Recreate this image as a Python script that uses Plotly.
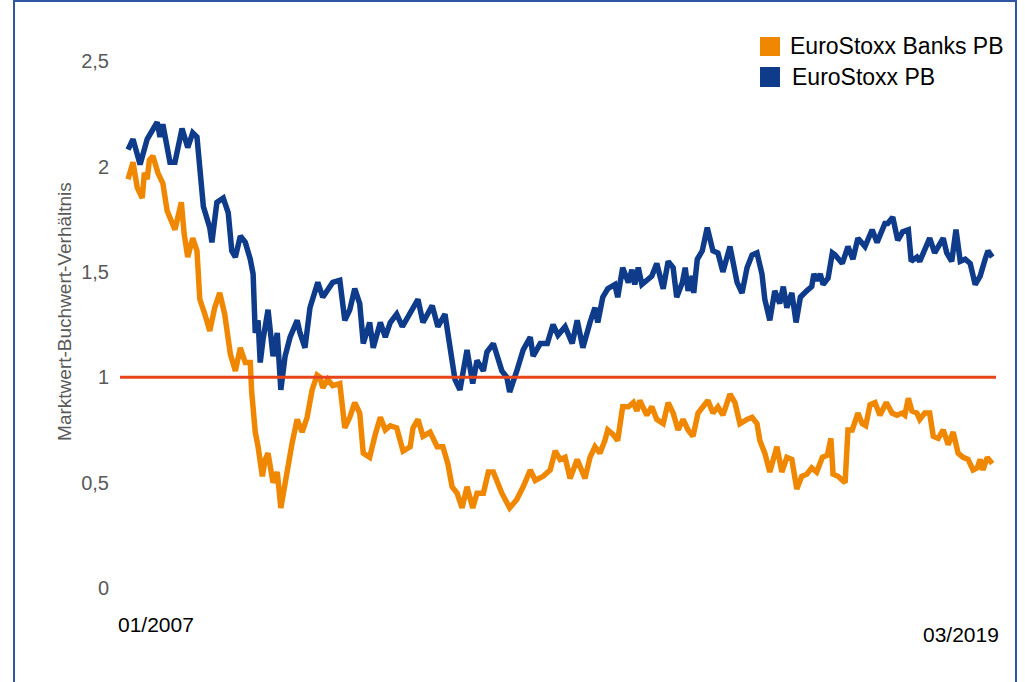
import plotly.graph_objects as go

# ---- data (decimal year, price-to-book ratio) ----
stoxx_year = [2007.00, 2007.07, 2007.17, 2007.27, 2007.41, 2007.45, 2007.49, 2007.59, 2007.66, 2007.76,
              2007.84, 2007.91, 2007.97, 2008.01, 2008.06, 2008.15, 2008.18, 2008.25, 2008.34, 2008.41,
              2008.46, 2008.51, 2008.58, 2008.65, 2008.72, 2008.76, 2008.79, 2008.83, 2008.86, 2008.90,
              2008.97, 2009.04, 2009.10, 2009.15, 2009.21, 2009.28, 2009.38, 2009.42, 2009.49, 2009.56,
              2009.67, 2009.74, 2009.81, 2009.88, 2009.98, 2010.05, 2010.12, 2010.19, 2010.26, 2010.31,
              2010.40, 2010.45, 2010.55, 2010.62, 2010.69, 2010.78, 2010.86, 2010.97, 2011.08, 2011.15,
              2011.28, 2011.36, 2011.46, 2011.50, 2011.56, 2011.60, 2011.67, 2011.77, 2011.85, 2011.91,
              2012.00, 2012.05, 2012.14, 2012.26, 2012.33, 2012.37, 2012.47, 2012.56, 2012.66, 2012.70,
              2012.80, 2012.90, 2012.98, 2013.05, 2013.15, 2013.25, 2013.32, 2013.40, 2013.50, 2013.57,
              2013.61, 2013.68, 2013.75, 2013.85, 2013.89, 2013.96, 2014.04, 2014.09, 2014.13, 2014.18,
              2014.23, 2014.30, 2014.37, 2014.44, 2014.49, 2014.53, 2014.60, 2014.67, 2014.72, 2014.80,
              2014.84, 2014.88, 2014.94, 2014.96, 2015.01, 2015.08, 2015.15, 2015.19, 2015.23, 2015.30,
              2015.37, 2015.47, 2015.57, 2015.64, 2015.71, 2015.78, 2015.85, 2015.92, 2015.96, 2016.03,
              2016.10, 2016.17, 2016.22, 2016.27, 2016.34, 2016.40, 2016.46, 2016.55, 2016.62, 2016.65,
              2016.69, 2016.74, 2016.78, 2016.85, 2016.91, 2016.95, 2017.05, 2017.13, 2017.20, 2017.27,
              2017.37, 2017.47, 2017.54, 2017.65, 2017.69, 2017.76, 2017.83, 2017.90, 2017.98, 2018.02,
              2018.10, 2018.14, 2018.24, 2018.28, 2018.35, 2018.40, 2018.47, 2018.52, 2018.59, 2018.65,
              2018.71, 2018.78, 2018.85, 2018.92, 2018.99, 2019.06, 2019.10, 2019.16]
stoxx_pb = [2.08, 2.13, 2.01, 2.13, 2.21, 2.14, 2.20, 2.02, 2.02, 2.18,
            2.09, 2.16, 2.14, 1.98, 1.81, 1.71, 1.64, 1.83, 1.85, 1.78,
            1.60, 1.57, 1.67, 1.64, 1.56, 1.49, 1.21, 1.27, 1.07, 1.18,
            1.32, 1.10, 1.21, 0.94, 1.10, 1.19, 1.27, 1.21, 1.14, 1.33,
            1.45, 1.38, 1.41, 1.45, 1.46, 1.27, 1.32, 1.42, 1.35, 1.16,
            1.26, 1.14, 1.26, 1.19, 1.26, 1.30, 1.24, 1.30, 1.37, 1.26,
            1.34, 1.24, 1.30, 1.21, 1.08, 0.99, 0.94, 1.13, 0.97, 1.08,
            1.03, 1.12, 1.16, 1.03, 1.00, 0.93, 1.03, 1.13, 1.19, 1.10,
            1.16, 1.16, 1.25, 1.20, 1.24, 1.16, 1.27, 1.14, 1.26, 1.33,
            1.26, 1.38, 1.42, 1.44, 1.38, 1.52, 1.45, 1.51, 1.44, 1.52,
            1.44, 1.46, 1.48, 1.54, 1.48, 1.42, 1.55, 1.52, 1.38, 1.45,
            1.52, 1.41, 1.48, 1.40, 1.56, 1.60, 1.71, 1.64, 1.60, 1.59,
            1.50, 1.62, 1.45, 1.40, 1.52, 1.58, 1.59, 1.49, 1.37, 1.27,
            1.41, 1.35, 1.43, 1.33, 1.40, 1.26, 1.38, 1.41, 1.43, 1.49,
            1.46, 1.49, 1.44, 1.47, 1.59, 1.58, 1.54, 1.62, 1.56, 1.66,
            1.62, 1.70, 1.64, 1.73, 1.73, 1.76, 1.65, 1.69, 1.70, 1.55,
            1.57, 1.55, 1.64, 1.66, 1.59, 1.62, 1.66, 1.59, 1.55, 1.70,
            1.55, 1.56, 1.54, 1.44, 1.48, 1.56, 1.60, 1.57]

banks_year = [2007.00, 2007.07, 2007.13, 2007.20, 2007.23, 2007.27, 2007.30, 2007.35, 2007.42, 2007.49,
              2007.55, 2007.59, 2007.66, 2007.75, 2007.79, 2007.84, 2007.91, 2007.97, 2008.01, 2008.08,
              2008.15, 2008.22, 2008.29, 2008.36, 2008.44, 2008.51, 2008.58, 2008.65, 2008.72, 2008.74,
              2008.79, 2008.83, 2008.89, 2008.93, 2008.97, 2009.04, 2009.10, 2009.15, 2009.24, 2009.31,
              2009.38, 2009.45, 2009.52, 2009.59, 2009.66, 2009.70, 2009.74, 2009.81, 2009.88, 2009.98,
              2010.05, 2010.12, 2010.19, 2010.26, 2010.31, 2010.40, 2010.48, 2010.55, 2010.62, 2010.69,
              2010.78, 2010.87, 2010.97, 2011.01, 2011.08, 2011.15, 2011.25, 2011.35, 2011.43, 2011.50,
              2011.56, 2011.63, 2011.70, 2011.77, 2011.85, 2011.91, 2012.00, 2012.07, 2012.14, 2012.26,
              2012.37, 2012.47, 2012.56, 2012.66, 2012.73, 2012.84, 2012.94, 2013.01, 2013.08, 2013.15,
              2013.22, 2013.32, 2013.43, 2013.50, 2013.57, 2013.64, 2013.71, 2013.75, 2013.82, 2013.89,
              2013.96, 2014.04, 2014.11, 2014.16, 2014.20, 2014.30, 2014.37, 2014.44, 2014.53, 2014.60,
              2014.67, 2014.74, 2014.81, 2014.88, 2014.95, 2015.02, 2015.09, 2015.16, 2015.23, 2015.30,
              2015.37, 2015.47, 2015.54, 2015.61, 2015.71, 2015.78, 2015.85, 2015.89, 2015.96, 2016.03,
              2016.13, 2016.20, 2016.27, 2016.34, 2016.41, 2016.48, 2016.55, 2016.62, 2016.69, 2016.77,
              2016.84, 2016.89, 2016.92, 2016.99, 2017.09, 2017.13, 2017.19, 2017.27, 2017.33, 2017.38,
              2017.44, 2017.51, 2017.58, 2017.67, 2017.75, 2017.82, 2017.89, 2017.93, 2017.98, 2018.03,
              2018.10, 2018.14, 2018.21, 2018.28, 2018.33, 2018.40, 2018.47, 2018.54, 2018.61, 2018.68,
              2018.75, 2018.82, 2018.89, 2018.95, 2018.99, 2019.03, 2019.09, 2019.16]
banks_pb = [1.94, 2.02, 1.90, 1.85, 1.97, 1.94, 2.03, 2.05, 1.97, 1.92,
            1.79, 1.76, 1.70, 1.83, 1.68, 1.57, 1.66, 1.60, 1.37, 1.30,
            1.22, 1.33, 1.40, 1.30, 1.11, 1.03, 1.14, 1.07, 1.07, 0.93,
            0.74, 0.67, 0.53, 0.61, 0.64, 0.50, 0.55, 0.38, 0.57, 0.69,
            0.80, 0.74, 0.81, 0.94, 1.01, 1.00, 0.95, 0.99, 0.96, 0.97,
            0.76, 0.81, 0.88, 0.83, 0.64, 0.62, 0.73, 0.81, 0.75, 0.77,
            0.76, 0.65, 0.67, 0.76, 0.80, 0.72, 0.74, 0.67, 0.67, 0.59,
            0.48, 0.45, 0.38, 0.48, 0.38, 0.45, 0.45, 0.55, 0.55, 0.45,
            0.38, 0.42, 0.48, 0.56, 0.51, 0.53, 0.56, 0.65, 0.61, 0.62,
            0.52, 0.61, 0.52, 0.62, 0.67, 0.64, 0.70, 0.75, 0.73, 0.70,
            0.86, 0.86, 0.88, 0.84, 0.89, 0.82, 0.86, 0.80, 0.78, 0.88,
            0.83, 0.75, 0.80, 0.75, 0.72, 0.83, 0.86, 0.89, 0.83, 0.86,
            0.82, 0.92, 0.88, 0.78, 0.80, 0.81, 0.78, 0.70, 0.64, 0.55,
            0.67, 0.55, 0.62, 0.61, 0.47, 0.53, 0.54, 0.57, 0.55, 0.62,
            0.63, 0.71, 0.54, 0.53, 0.50, 0.75, 0.75, 0.83, 0.78, 0.77,
            0.87, 0.88, 0.82, 0.88, 0.83, 0.82, 0.83, 0.82, 0.90, 0.84,
            0.83, 0.80, 0.83, 0.83, 0.72, 0.71, 0.75, 0.68, 0.74, 0.64,
            0.62, 0.61, 0.56, 0.57, 0.61, 0.56, 0.62, 0.59]

reference_level = 1.0
y_tick_vals = [0, 0.5, 1, 1.5, 2, 2.5]
y_tick_text = ["0", "0,5", "1", "1,5", "2", "2,5"]
x_start_label = "01/2007"
x_end_label = "03/2019"
series_names = ["EuroStoxx Banks PB", "EuroStoxx PB"]
y_title = "Marktwert-Buchwert-Verhältnis"

ORANGE = "#F08700"
BLUE = "#0E3B8A"
RED = "#E8441A"
FRAME = "#2F55A4"
FONT = "Liberation Sans, Arial, sans-serif"

fig = go.Figure()
fig.add_trace(go.Scatter(x=banks_year, y=banks_pb, mode="lines", name=series_names[0],
                         line=dict(color=ORANGE, width=5.5), showlegend=False))
fig.add_trace(go.Scatter(x=stoxx_year, y=stoxx_pb, mode="lines", name=series_names[1],
                         line=dict(color=BLUE, width=5.5), showlegend=False))

# reference line at 1
fig.add_shape(type="line", xref="paper", x0=0, x1=1, yref="y", y0=reference_level, y1=reference_level,
              line=dict(color=RED, width=3), layer="above")

# outer frame
fig.add_shape(type="rect", xref="paper", yref="paper", x0=-0.1210, x1=1.0228, y0=-0.25, y1=1.0316,
              line=dict(color=FRAME, width=2), fillcolor="rgba(0,0,0,0)", layer="above")

# legend (manual squares + labels)
fig.add_shape(type="rect", xref="paper", yref="paper", x0=0.7306, x1=0.7534, y0=0.935, y1=0.9684,
              line=dict(width=0), fillcolor=ORANGE)
fig.add_shape(type="rect", xref="paper", yref="paper", x0=0.7306, x1=0.7534, y0=0.8805, y1=0.9156,
              line=dict(width=0), fillcolor=BLUE)
fig.add_annotation(xref="paper", yref="paper", x=0.7626, y=0.9525, text=series_names[0],
                   showarrow=False, xanchor="left", yanchor="middle",
                   font=dict(family=FONT, size=23, color="#000000"))
fig.add_annotation(xref="paper", yref="paper", x=0.7648, y=0.898, text=series_names[1],
                   showarrow=False, xanchor="left", yanchor="middle",
                   font=dict(family=FONT, size=23, color="#000000"))

# x labels
fig.add_annotation(xref="paper", yref="paper", x=0.0411, y=-0.065, text=x_start_label,
                   showarrow=False, xanchor="center", yanchor="middle",
                   font=dict(family=FONT, size=21, color="#000000"))
fig.add_annotation(xref="paper", yref="paper", x=0.960, y=-0.0826, text=x_end_label,
                   showarrow=False, xanchor="center", yanchor="middle",
                   font=dict(family=FONT, size=21, color="#000000"))

# y title
fig.add_annotation(xref="paper", yref="paper", x=-0.0628, y=0.487, text=y_title, textangle=-90,
                   showarrow=False, xanchor="center", yanchor="middle",
                   font=dict(family=FONT, size=19, color="#595959"))

fig.update_layout(
    width=1025, height=682,
    margin=dict(l=120, r=29, t=19, b=94),
    paper_bgcolor="white", plot_bgcolor="white",
    font=dict(family=FONT),
    xaxis=dict(range=[2006.887, 2019.213], showticklabels=False, showgrid=False,
               zeroline=False, showline=False, ticks=""),
    yaxis=dict(range=[0, 2.7], tickvals=y_tick_vals, ticktext=y_tick_text, showgrid=False,
               zeroline=False, showline=False, ticks="", ticklabelstandoff=10,
               tickfont=dict(family=FONT, size=20, color="#595959")),
    showlegend=False,
)

fig.write_html("out.html", config={"displayModeBar": False},
               post_script="document.body.style.margin='0px';document.body.style.overflow='hidden';")
